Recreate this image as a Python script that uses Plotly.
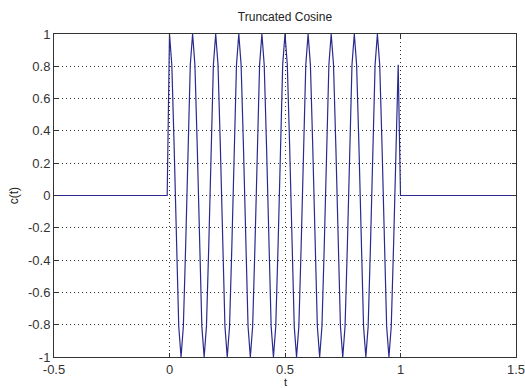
import numpy as np
import plotly.graph_objects as go

# Sampled signal (values read from the picture), sample step 0.01 on [0, 1)
t_start = 0.0
t_step = 0.01
c_on = [
    1, 0.81, 0.31, -0.31, -0.81, -1, -0.81, -0.31, 0.31, 0.81,
    1, 0.81, 0.31, -0.31, -0.81, -1, -0.81, -0.31, 0.31, 0.81,
    1, 0.81, 0.31, -0.31, -0.81, -1, -0.81, -0.31, 0.31, 0.81,
    1, 0.81, 0.31, -0.31, -0.81, -1, -0.81, -0.31, 0.31, 0.81,
    1, 0.81, 0.31, -0.31, -0.81, -1, -0.81, -0.31, 0.31, 0.81,
    1, 0.81, 0.31, -0.31, -0.81, -1, -0.81, -0.31, 0.31, 0.81,
    1, 0.81, 0.31, -0.31, -0.81, -1, -0.81, -0.31, 0.31, 0.81,
    1, 0.81, 0.31, -0.31, -0.81, -1, -0.81, -0.31, 0.31, 0.81,
    1, 0.81, 0.31, -0.31, -0.81, -1, -0.81, -0.31, 0.31, 0.81,
    1, 0.81, 0.31, -0.31, -0.81, -1, -0.81, -0.31, 0.31, 0.81,
]
t_before = [-0.5, -0.01]
c_before = [0, 0]
t_after = [1.0, 1.5]
c_after = [0, 0]

x_ticks = [-0.5, 0, 0.5, 1, 1.5]
x_ticklabels = ["-0.5", "0", "0.5", "1", "1.5"]
y_ticks = [-1, -0.8, -0.6, -0.4, -0.2, 0, 0.2, 0.4, 0.6, 0.8, 1]
y_ticklabels = ["-1", "-0.8", "-0.6", "-0.4", "-0.2", "0", "0.2", "0.4", "0.6", "0.8", "1"]

t_on = [round(t_start + i * t_step, 2) for i in range(len(c_on))]
t_all = t_before + t_on + t_after
c_all = c_before + c_on + c_after

font_family = "Liberation Sans, Arial, sans-serif"
fig = go.Figure()
fig.add_trace(go.Scatter(x=t_all, y=c_all, mode="lines",
                         line=dict(color="#2a2a8e", width=1.2),
                         showlegend=False, hoverinfo="skip"))

axis_common = dict(
    showline=True, mirror="ticks", linecolor="#333333", linewidth=1,
    ticks="inside", ticklen=4, tickcolor="#333333",
    showgrid=True, gridcolor="#333333", gridwidth=1, griddash="1px,3px",
    zeroline=False, automargin=False, ticklabeloverflow="allow",
    tickfont=dict(family=font_family, size=13, color="#333333"),
)
fig.update_xaxes(range=[-0.5, 1.5], tickvals=x_ticks, ticktext=x_ticklabels,
                 ticklabelstandoff=0, **axis_common)
fig.update_yaxes(range=[-1, 1], tickvals=y_ticks, ticktext=y_ticklabels, **axis_common)

fig.update_layout(
    width=525, height=388,
    margin=dict(l=54, r=9, t=34, b=31, autoexpand=False),
    paper_bgcolor="white", plot_bgcolor="white",
    font=dict(family=font_family, color="#222222"),
    title=dict(text="Truncated Cosine", x=0.5, xref="paper", xanchor="center",
               y=1 - 17 / 388, yanchor="middle", yref="container",
               font=dict(size=12, family=font_family, color="#222222")),
    annotations=[
        dict(text="t", xref="paper", yref="paper", x=0.5, y=-0.078,
             xanchor="center", yanchor="middle", showarrow=False,
             font=dict(size=11, family=font_family, color="#222222")),
        dict(text="c(t)", xref="paper", yref="paper", x=-0.087, y=0.5,
             xanchor="center", yanchor="middle", showarrow=False, textangle=-90,
             font=dict(size=12, family=font_family, color="#222222")),
    ],
)

fig.write_html("out.html",
               config={"displayModeBar": False},
               post_script="document.body.style.margin='0px';document.body.style.padding='0px';")
